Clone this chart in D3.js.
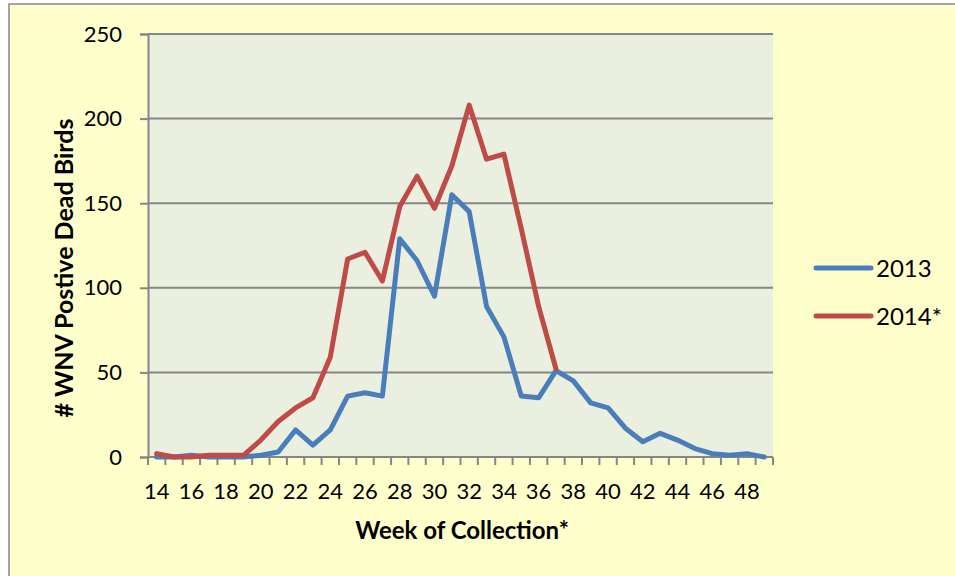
<!DOCTYPE html>
<html>
<head>
<meta charset="utf-8">
<script src="https://cdn.jsdelivr.net/npm/d3@7"></script>
<style>
  body { margin: 0; background: #fff; }
  svg { display: block; }
</style>
</head>
<body>
<div id="chart"></div>
<script>
const weeks = d3.range(14, 50);
const tickWeeks = d3.range(14, 49, 2);
const yTicks = [0, 50, 100, 150, 200, 250];

const series2013 = [0, 0, 1, 0, 0, 0, 1, 3, 16, 7, 16, 36, 38, 36, 129, 116, 95, 155, 145, 89,
  71, 36, 35, 51, 45, 32, 29, 17, 9, 14, 10, 5, 2, 1, 2, 0];
const series2014 = [2, 0, 0, 1, 1, 1, 10, 21, 29, 35, 59, 117, 121, 104, 148, 166, 147, 172, 208, 176,
  179, 135, 89, 52];

const seriesNames = ["2013", "2014*"];
const seriesColours = ["#4A7EBB", "#BE4B48"];

const width = 955, height = 576;
const margin = { top: 34, right: 182, bottom: 119, left: 148 };
const font = "Lato, 'Open Sans', sans-serif";

const svg = d3.select("#chart").append("svg")
  .attr("width", width)
  .attr("height", height);

// outer chart frame
svg.append("rect")
  .attr("x", 9).attr("y", 4)
  .attr("width", width).attr("height", height)
  .attr("fill", "#FFFFCC")
  .attr("stroke", "#868686")
  .attr("stroke-width", 1.5);

const x = d3.scaleBand()
  .domain(weeks)
  .range([margin.left, width - margin.right]);

const y = d3.scaleLinear()
  .domain([0, 250])
  .range([height - margin.bottom, margin.top]);

// plot area
svg.append("rect")
  .attr("x", margin.left)
  .attr("y", margin.top)
  .attr("width", width - margin.left - margin.right)
  .attr("height", height - margin.top - margin.bottom)
  .attr("fill", "#EBEFDF");

// gridlines
svg.append("g")
  .selectAll("line")
  .data(yTicks.filter(d => d > 0))
  .join("line")
  .attr("x1", margin.left)
  .attr("x2", width - margin.right)
  .attr("y1", d => y(d))
  .attr("y2", d => y(d))
  .attr("stroke", "#868686")
  .attr("stroke-width", 2);

// y axis
const yAxis = svg.append("g")
  .attr("transform", `translate(${margin.left},0)`)
  .call(d3.axisLeft(y).tickValues(yTicks).tickSize(8).tickPadding(18));
yAxis.select(".domain").attr("stroke", "#868686").attr("stroke-width", 2);
yAxis.selectAll(".tick line").attr("stroke", "#868686").attr("stroke-width", 2);
yAxis.selectAll(".tick text")
  .attr("font-family", font)
  .attr("font-size", 22)
  .attr("fill", "#000");

// x axis: ticks at category boundaries, labels every two weeks
const xAxisG = svg.append("g")
  .attr("transform", `translate(0,${height - margin.bottom})`);
xAxisG.append("line")
  .attr("x1", margin.left)
  .attr("x2", width - margin.right)
  .attr("stroke", "#868686")
  .attr("stroke-width", 2);
xAxisG.selectAll("line.tk")
  .data(weeks.concat([50]))
  .join("line")
  .attr("class", "tk")
  .attr("x1", d => d === 50 ? x(49) + x.bandwidth() : x(d))
  .attr("x2", d => d === 50 ? x(49) + x.bandwidth() : x(d))
  .attr("y1", 0)
  .attr("y2", 8)
  .attr("stroke", "#868686")
  .attr("stroke-width", 2);
xAxisG.selectAll("text")
  .data(tickWeeks)
  .join("text")
  .attr("x", d => x(d) + x.bandwidth() / 2)
  .attr("y", 42)
  .attr("text-anchor", "middle")
  .attr("font-family", font)
  .attr("font-size", 22)
  .text(d => d);

// lines
const line = d3.line()
  .x((d, i) => x(weeks[i]) + x.bandwidth() / 2)
  .y(d => y(d));

[series2013, series2014].forEach((s, i) => {
  svg.append("path")
    .datum(s)
    .attr("fill", "none")
    .attr("stroke", seriesColours[i])
    .attr("stroke-width", 5)
    .attr("stroke-linejoin", "round")
    .attr("stroke-linecap", "round")
    .attr("d", line);
});

// axis titles
svg.append("text")
  .attr("x", 462)
  .attr("y", 539)
  .attr("text-anchor", "middle")
  .attr("font-family", font)
  .attr("font-size", 24)
  .attr("font-weight", "bold")
  .text("Week of Collection*");

svg.append("text")
  .attr("transform", "translate(73,268) rotate(-90)")
  .attr("text-anchor", "middle")
  .attr("font-family", font)
  .attr("font-size", 25)
  .attr("font-weight", "bold")
  .text("# WNV Postive Dead Birds");

// legend
const legend = svg.append("g")
  .selectAll("g")
  .data(seriesNames)
  .join("g")
  .attr("transform", (d, i) => `translate(816,${268 + i * 48})`);
legend.append("line")
  .attr("x1", 0).attr("x2", 55)
  .attr("stroke", (d, i) => seriesColours[i])
  .attr("stroke-width", 5)
  .attr("stroke-linecap", "round");
legend.append("text")
  .attr("x", 60)
  .attr("y", 9)
  .attr("font-family", font)
  .attr("font-size", 24)
  .text(d => d);
</script>
</body>
</html>
